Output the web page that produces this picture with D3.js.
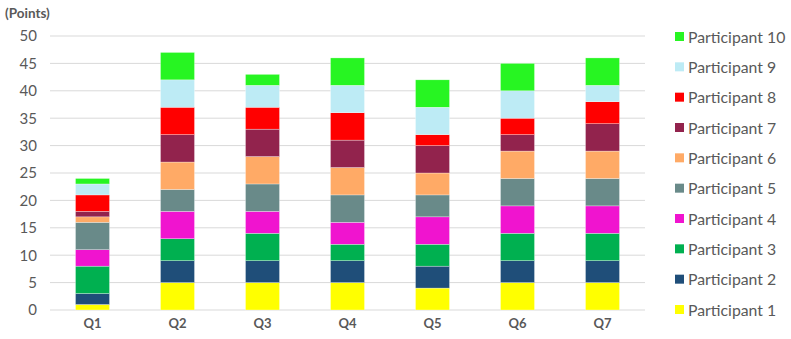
<!DOCTYPE html>
<html><head><meta charset="utf-8">
<script src="https://cdn.jsdelivr.net/npm/d3@7"></script>
<style>
body{margin:0;background:#fff;}
svg{font-family:Lato,"Open Sans",sans-serif;}
</style></head>
<body><svg id="c" width="791" height="339"></svg>
<script>
const categories = ["Q1","Q2","Q3","Q4","Q5","Q6","Q7"];
const seriesNames = ["Participant 1","Participant 2","Participant 3","Participant 4","Participant 5","Participant 6","Participant 7","Participant 8","Participant 9","Participant 10"];
const p1  = [1,5,5,5,4,5,5];
const p2  = [2,4,4,4,4,4,4];
const p3  = [5,4,5,3,4,5,5];
const p4  = [3,5,4,4,5,5,5];
const p5  = [5,4,5,5,4,5,5];
const p6  = [1,5,5,5,4,5,5];
const p7  = [1,5,5,5,5,3,5];
const p8  = [3,5,4,5,2,3,4];
const p9  = [2,5,4,5,5,5,3];
const p10 = [1,5,2,5,5,5,5];
const yTicks = [0,5,10,15,20,25,30,35,40,45,50];
const colors = ["#FFFF00","#1F4E79","#00B050","#F014CF","#698A89","#FFAA66","#92234D","#FF0000","#BDEBF5","#27F522"];
const seriesVals = [p1,p2,p3,p4,p5,p6,p7,p8,p9,p10];

const rows = categories.map((c,i)=>{const o={cat:c}; seriesNames.forEach((s,j)=>o[s]=seriesVals[j][i]); return o;});
const stack = d3.stack().keys(seriesNames)(rows);

const svg = d3.select("#c");
const x = d3.scaleBand().domain(categories).range([50,645]).paddingInner(0.6).paddingOuter(0.3);
const y = d3.scaleLinear().domain([0,50]).range([310,36]);

svg.append("g").selectAll("line").data(yTicks).join("line")
  .attr("x1",50).attr("x2",645).attr("y1",d=>y(d)).attr("y2",d=>y(d))
  .attr("stroke","#d9d9d9").attr("stroke-width",1);

const ya = svg.append("g").attr("transform","translate(50,0)")
  .call(d3.axisLeft(y).tickValues(yTicks).tickSize(0).tickPadding(13));
ya.select(".domain").remove();
ya.selectAll("text").attr("fill","#595959").style("font-size","15px").style("font-family","Lato,'Open Sans',sans-serif");

const xa = svg.append("g").attr("transform","translate(0,310)")
  .call(d3.axisBottom(x).tickSize(0).tickPadding(9));
xa.select(".domain").remove();
xa.selectAll("text").attr("fill","#595959").style("font-size","13px").style("font-weight","bold").style("font-family","Lato,'Open Sans',sans-serif");

svg.append("g").selectAll("g").data(stack).join("g")
  .attr("fill",(d,i)=>colors[i])
  .selectAll("rect").data(d=>d).join("rect")
  .attr("x",d=>x(d.data.cat)).attr("width",x.bandwidth())
  .attr("y",d=>y(d[1])).attr("height",d=>y(d[0])-y(d[1]))
  .attr("stroke","#ffffff").attr("stroke-width",0.5).attr("stroke-opacity",0.6);

svg.append("text").attr("x",5).attr("y",18).text("(Points)")
  .attr("fill","#595959").style("font-size","13.5px").style("font-weight","bold");

const ly = d3.scalePoint().domain(seriesNames.slice().reverse()).range([37,310]);
const lg = svg.append("g").selectAll("g").data(seriesNames).join("g")
  .attr("transform",d=>`translate(675,${ly(d)})`);
lg.append("rect").attr("x",0).attr("y",-5).attr("width",9).attr("height",9).attr("fill",(d,i)=>colors[i]);
lg.append("text").attr("x",13).attr("y",0).attr("dy","0.35em").text(d=>d)
  .attr("fill","#595959").style("font-size","15.8px");
</script></body></html>
